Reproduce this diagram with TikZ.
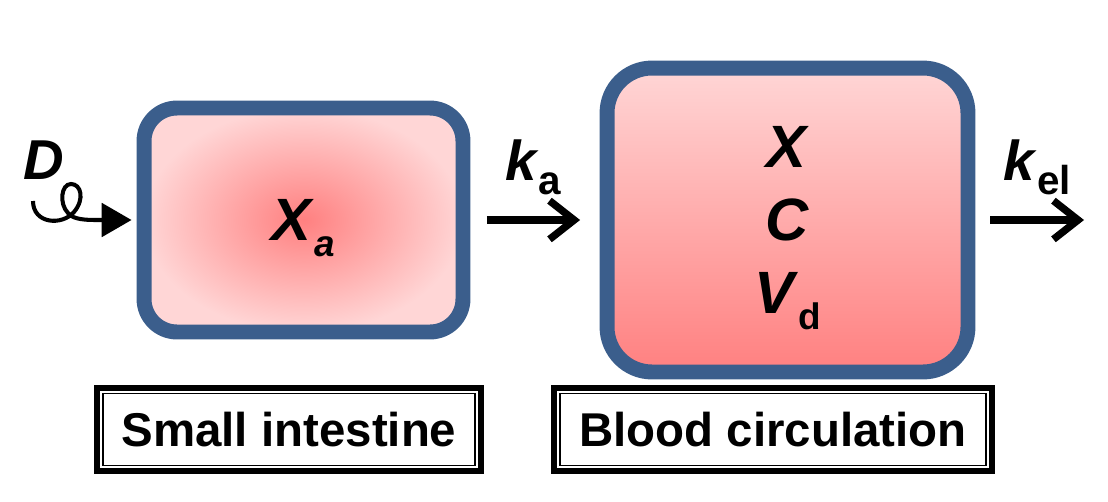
\documentclass[tikz,border=0pt]{standalone}
\usepackage{fontspec}
\setmainfont{Liberation Sans}
\usetikzlibrary{arrows.meta}
\definecolor{pkborder}{HTML}{3B5E8C}
\definecolor{pklight}{HTML}{FFD6D6}
\definecolor{pkdeep}{HTML}{FF8080}
\newcommand{\fs}[1]{\fontsize{#1}{#1}\selectfont}
\newcommand{\pkvar}[1]{\textbf{\textit{#1}}}

\begin{document}
\begin{tikzpicture}[x=0.02cm, y=-0.02cm,
    compartment/.style={draw=pkborder, line width=8.5pt, align=center},
    tag/.style={draw, line width=3.4pt, minimum height=1.66cm, font=\fs{27}\bfseries},
    flow/.style={line width=4.2pt, -{Straight Barb[length=14pt, width=22pt]}}]
    \useasboundingbox (0,0) rectangle (1108,501);

    % Compartments
    \node[compartment, rounded corners=0.66cm, minimum width=6.38cm, minimum height=4.48cm,
        inner color=pkdeep, outer color=pklight] (small) at (303.5,220)
        {\fs{34}\pkvar{X}\raisebox{-9pt}[0pt][0pt]{\fs{21}\pkvar{a}}};
    \node[compartment, rounded corners=0.9cm, minimum width=7.22cm, minimum height=6.08cm,
        top color=pklight, bottom color=pkdeep, font=\fontsize{34}{41.4}\selectfont] (blood) at (787.5,220)
        {\pkvar{X}\\ \pkvar{C}\\ \pkvar{V}\raisebox{-9pt}[0pt][0pt]{\fs{21}\textbf{d}}};

    % Labels
    \node[tag, minimum width=7.68cm] (smalltag) at (289,429.5) {Small intestine};
    \node[tag, minimum width=8.76cm] (bloodtag) at (773,429.5) {Blood circulation};
    \foreach \tg in {smalltag, bloodtag}
        \draw[line width=1.1pt] ([shift={(8.5,8.5)}]\tg.north west) rectangle ([shift={(-8.5,-8.5)}]\tg.south east);

    % Dose
    \coordinate (dose) at (33,201);
    \node (dlab) at (44,160) {\fs{32}\pkvar{D}};
    \draw[line width=2.3pt, -{Triangle[length=17pt, width=19pt]}] (dose)
        .. controls (33,224) and (62,226) .. (74,212)
        .. controls (85,199) and (81,184) .. (71,184)
        .. controls (61,184) and (59,204) .. (68,213)
        .. controls (72,218) and (80,220) .. (95,220) -- ([xshift=-0.1cm]small.west);

    % Rate constants
    \draw[flow] ([xshift=0.33cm]small.east) -- ([xshift=-0.39cm]blood.west) coordinate[midway] (kamid);
    \node (ka) at ([yshift=1.05cm]kamid) {\fs{32}\pkvar{k}\raisebox{-8pt}{\fs{23}\textbf{a}}};
    \coordinate (out) at (1084,220);
    \draw[flow] ([xshift=0.3cm]blood.east) -- (out) coordinate[midway] (kelmid);
    \node (kel) at ([yshift=1.05cm]kelmid) {\fs{32}\pkvar{k}\raisebox{-8pt}{\fs{23}\textbf{el}}};
\end{tikzpicture}
\end{document}
